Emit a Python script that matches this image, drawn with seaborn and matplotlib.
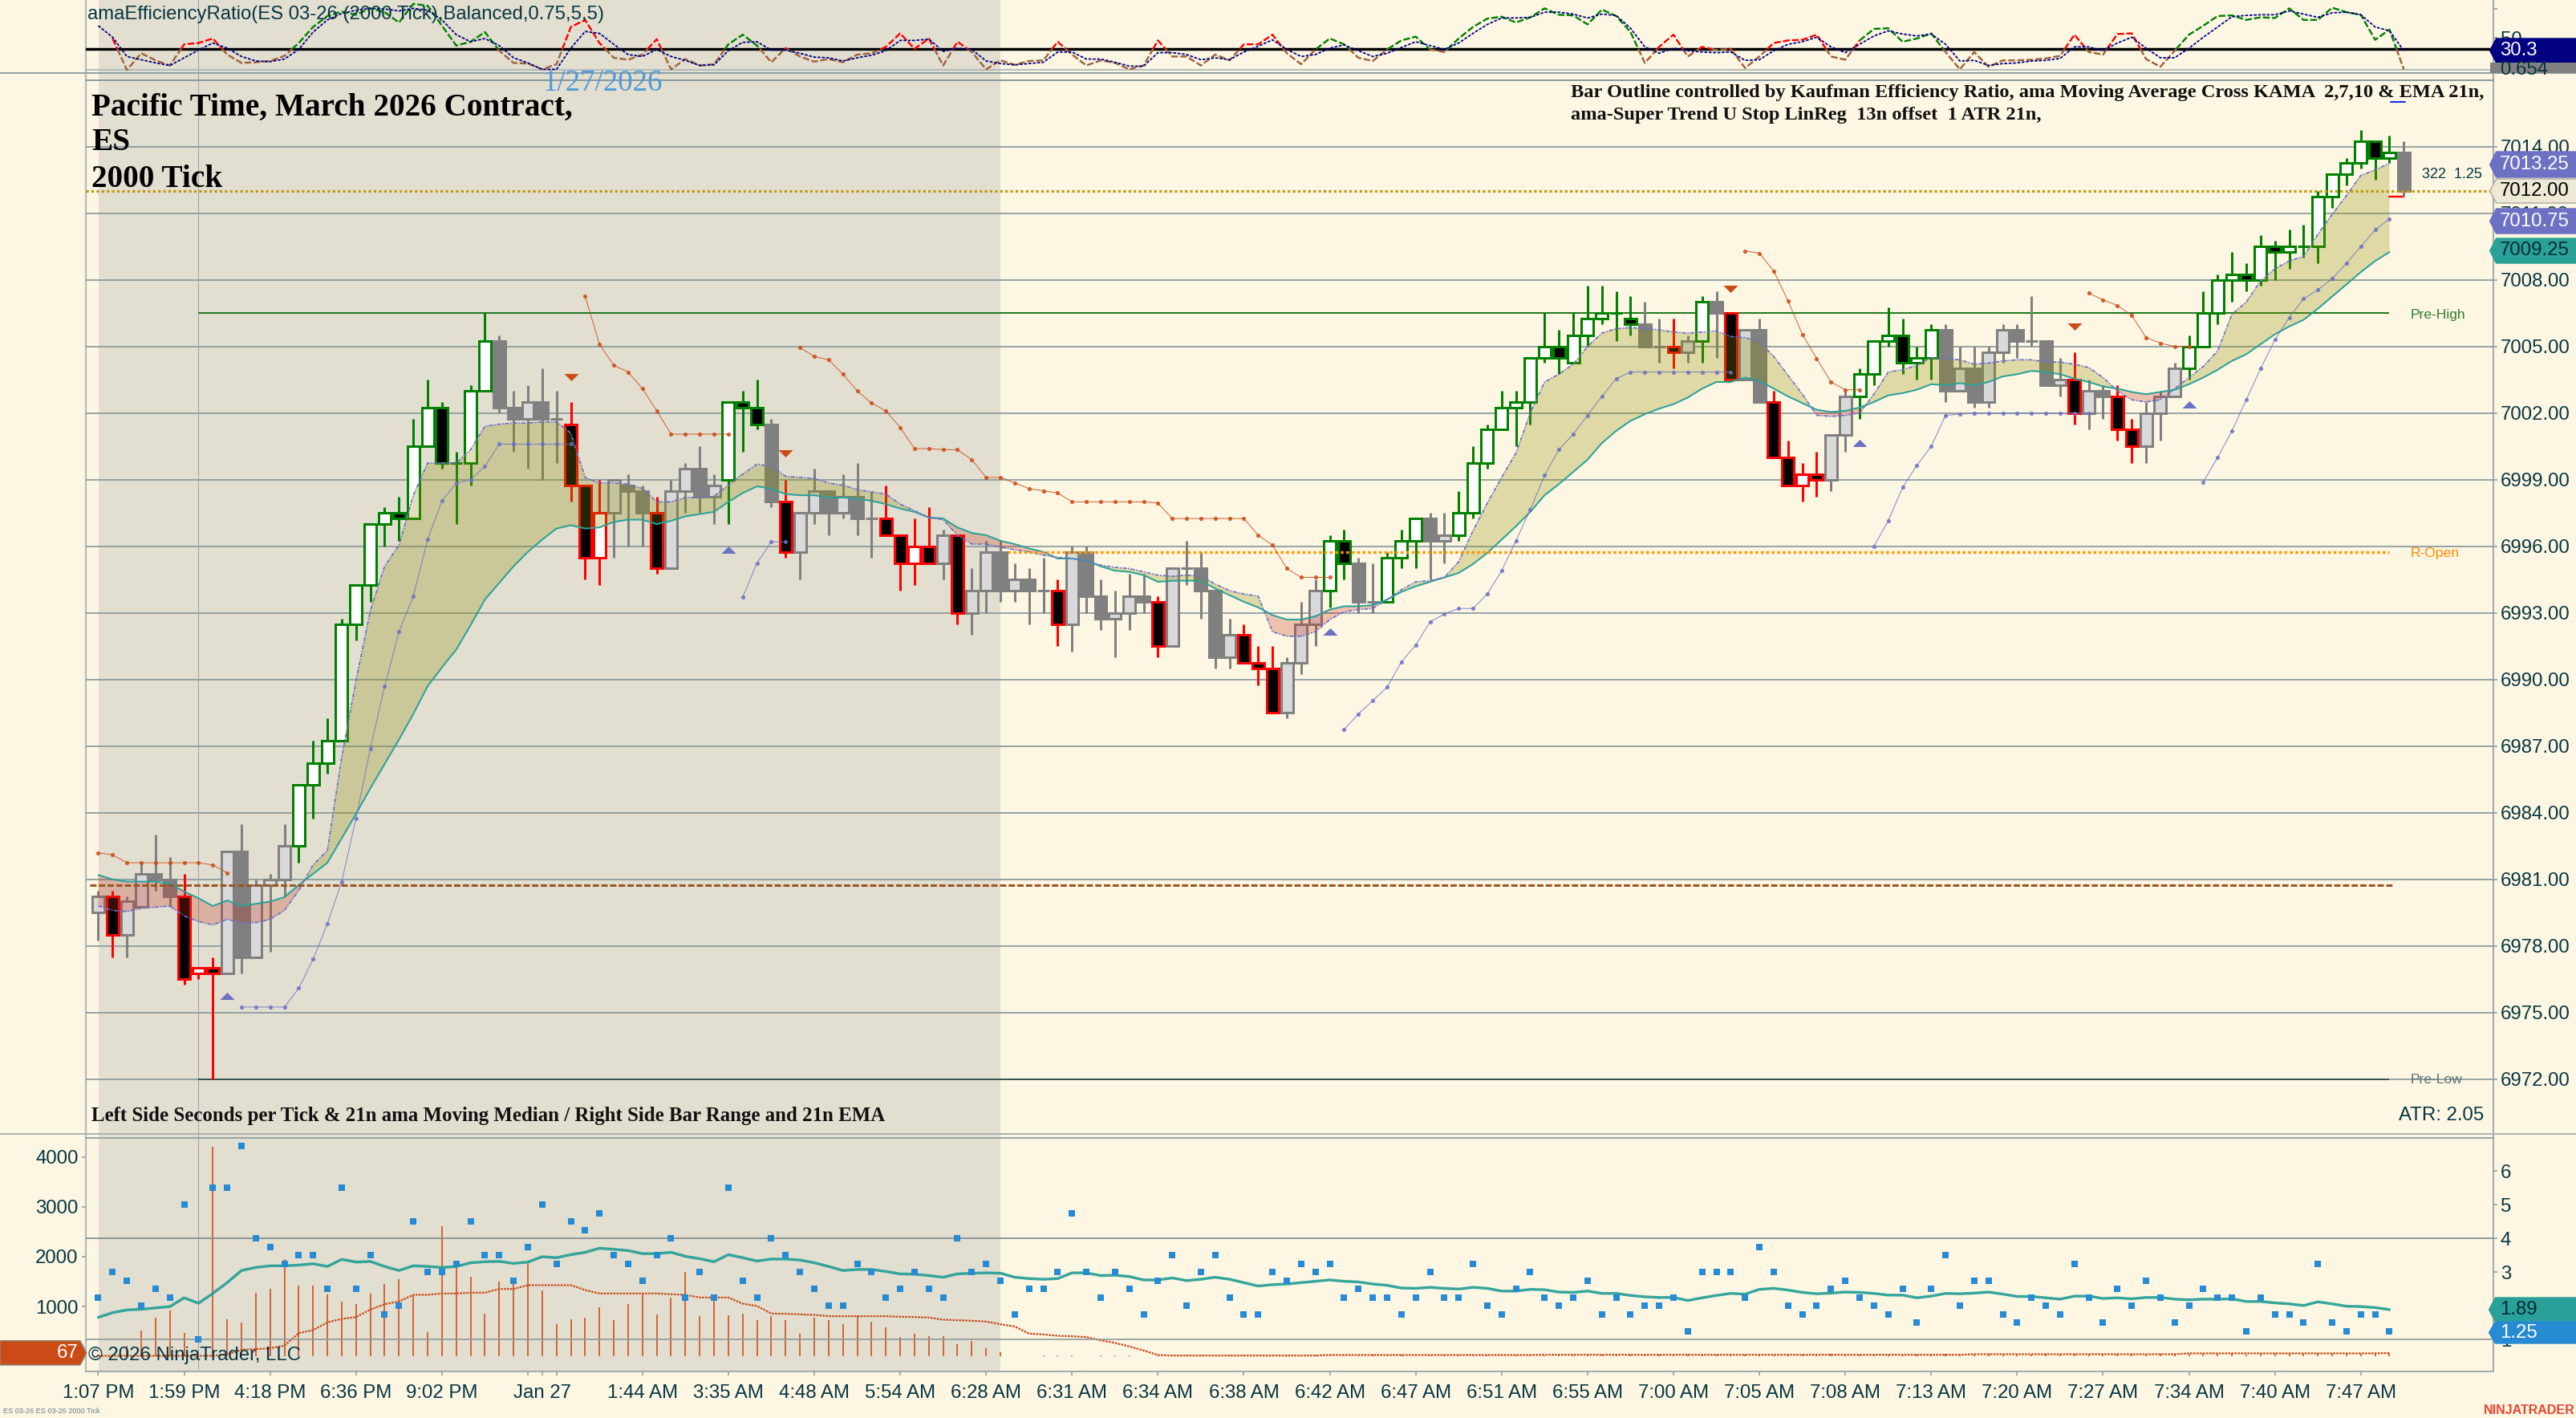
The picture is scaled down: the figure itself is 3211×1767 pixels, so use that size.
import numpy as np
import pandas as pd
import matplotlib
matplotlib.use("Agg")
import matplotlib.pyplot as plt
from matplotlib.path import Path
from matplotlib.patches import Polygon, Rectangle
import seaborn as sns

sns.set_theme(style="white")
plt.rcParams["font.family"] = ["Liberation Sans", "DejaVu Sans"]

BG = "#FDF6E3"; SHADE = "#E2DFD1"; INK = "#073642"; GRID = "#87989B"
TEAL = "#2AA198"; VIOLET = "#6C71C4"; ORANGE = "#CB4B16"; BLUE = "#268BD2"

OPENS = [6979.5,6980.25,6978.5,6979.75,6981.25,6981,6980.25,6976.75,6977,6976.75,
 6982.25,6977.5,6980.75,6981,6982.5,6985.25,6986.25,6987.25,6992.5,6994.25,
 6997,6997.5,6997.25,7000.5,7002.25,6999.75,6999.75,7003,7005.25,7002.25,
 7001.75,7002.5,7001.75,7001.5,6998.75,6995.5,6997.5,6998.75,6998.5,6997.5,
 6995,6998.5,6999.5,6998.25,6999,7002.5,7002.25,7001.5,6998,6995.75,
 6997.5,6998.5,6997.5,6998.25,6997.25,6997.25,6996.5,6995.25,6996,6995.25,
 6996.5,6993,6994,6995.75,6994,6994.5,6994,6994,6992.5,6995.75,
 6993.75,6992.75,6993,6993.75,6993.5,6991.5,6995,6995,6994,6991,
 6992,6990.75,6990.5,6988.5,6990.75,6992.5,6994,6996.25,6995.25,6993.5,
 6993.5,6995.5,6996.25,6997.25,6996.25,6996.5,6997.5,6999.75,7001.25,7002.25,
 7002.5,7004.5,7005,7004.25,7005.5,7006.25,7006.5,7006.25,7006,7005,
 7005,7004.75,7005.25,7007,7006.5,7003.5,7005.75,7002.5,7000,6998.75,
 6999.25,6999,7001,7002.75,7003.75,7005.25,7005.5,7004.25,7004.5,7005.75,
 7003,7004,7002.5,7004.75,7005.75,7005.25,7005.25,7003.25,7003.5,7002,
 7003,7002.75,7001.25,7000.5,7002,7002.75,7004,7005,7006.5,7008,
 7008.25,7008,7009.5,7009.25,7009.5,7009.5,7011.75,7012.75,7013.25,7014.25,
 7013.5,7013.75]
CLOSES = [6980.25,6978.5,6980,6981.25,6981,6980.25,6976.5,6977,6976.75,6982.25,
 6977.5,6980.75,6981,6982.5,6985.25,6986.25,6987.25,6992.5,6994.25,6997,
 6997.5,6997.25,7000.5,7002.25,6999.75,6999.75,7003,7005.25,7002.25,7001.75,
 7002.5,7001.75,7001.75,6998.75,6995.5,6997.5,6999,6998.5,6997.5,6995,
 6998.5,6999.5,6998.25,6998.75,7002.5,7002.25,7001.5,6998,6995.75,6997.5,
 6998.5,6997.5,6998.25,6997.25,6997.25,6996.5,6995.25,6996,6995.25,6996.5,
 6993,6994,6995.75,6994,6994.5,6994,6994,6992.5,6995.75,6993.75,
 6992.75,6993,6993.75,6993.5,6991.5,6995,6995,6994,6991,6992,
 6990.75,6990.5,6988.5,6990.75,6992.5,6994,6996.25,6995.25,6993.5,6993.5,
 6995.5,6996.25,6997.25,6996.25,6996.5,6997.5,6999.75,7001.25,7002.25,7002.5,
 7004.5,7005,7004.5,7005.5,7006.25,7006.5,7006.5,7006,7005,7005,
 7004.75,7005.25,7007,7006.5,7003.5,7005.75,7002.5,7000,6998.75,6999.25,
 6999,7001,7002.75,7003.75,7005.25,7005.5,7004.25,7004.5,7005.75,7003,
 7004,7002.5,7004.75,7005.75,7005.25,7005.25,7003.25,7003.5,7002,7003,
 7002.75,7001.25,7000.5,7002,7002.75,7004,7005,7006.5,7008,7008.25,
 7008,7009.5,7009.25,7009.5,7009.5,7011.75,7012.75,7013.25,7014.25,7013.5,
 7013.75,7012]
HIGHS = [6980.5,6980.5,6980.25,6981.75,6983,6982,6981.25,6977,6977.5,6982.25,
 6983.5,6981,6981.25,6983.5,6985.25,6987.25,6988.25,6992.75,6994.25,6997,
 6997.75,6998.25,7001.75,7003.5,7002.5,7000.25,7003.25,7006.5,7005.5,7003,
 7003.25,7004,7003,7002.5,6998.75,6999,6999,6999.25,6998.75,6998.25,
 6999,6999.75,7000.5,6999.25,7002.5,7003,7003.5,7001.75,6999,6997.5,
 6999.5,6998.5,6999.25,6999.75,6998.5,6998.75,6996.5,6997.25,6997.75,6996.75,
 6996.5,6995,6996.25,6996.25,6995.25,6995,6995.5,6994.5,6996,6996,
 6994.5,6994,6994.75,6994.75,6993.75,6995,6996.25,6995.75,6994,6992.75,
 6992.5,6991.5,6991.5,6991,6993.5,6994.5,6996.5,6996.75,6995.5,6995.25,
 6995.75,6996.75,6997.25,6997.5,6997.5,6998.5,7000.5,7001.5,7003,7003,
 7004.5,7006.5,7005.75,7006.5,7007.75,7007.75,7007.5,7007.25,7007,7006.25,
 7006.25,7005.5,7007.25,7007.5,7006.5,7005.75,7006.25,7003,7000.75,6999.75,
 7000.25,7001,7003,7004,7005.25,7006.75,7006.25,7005,7006,7006,
 7005,7005,7005,7006,7006,7007.25,7005.25,7004.5,7004.75,7003.5,
 7003.25,7003.25,7001.75,7002.5,7003,7004.25,7005.5,7007.5,7008.25,7009.25,
 7008.75,7010,7009.75,7010.25,7010.5,7012,7012.75,7013.5,7014.75,7014.25,
 7014.5,7014.25]
LOWS = [6978.25,6977.5,6977.5,6979.75,6980.5,6979.75,6976.25,6976.5,6972,6976.75,
 6976.75,6977.5,6977.75,6980.25,6981.75,6983.75,6985.75,6987.25,6991.75,6993.5,
 6996,6996.25,6997.25,7000.5,6999.5,6997,6998.75,7003,7002,7000.25,
 6999.5,6999,6999.75,6998,6994.5,6994.25,6995.5,6996,6996,6994.75,
 6995,6997.5,6997.5,6997,6997,7000.25,7001.25,6997.75,6995.5,6994.5,
 6997,6996.5,6997.25,6996.5,6995.5,6996.5,6994,6994.25,6995.25,6994.5,
 6992.5,6992,6993,6993.5,6993.5,6992.5,6993,6991.5,6991.25,6993,
 6992.25,6991,6992.25,6993,6991,6991.5,6994.25,6992.75,6990.5,6990.5,
 6990.75,6989.75,6988.5,6988.25,6990.25,6991.5,6993.25,6994.5,6993,6993,
 6993.5,6995,6995,6994.5,6995.25,6996.25,6997.25,6999.5,7001.25,7000.5,
 7001.5,7004.25,7003.75,7004.25,7005,7006,7005.25,7005.5,7005,7004.25,
 7004,7004.25,7004.25,7004.5,7003.5,7003.5,7002.5,7000,6998.75,6998,
 6998.25,6998.5,7000.25,7001.75,7003.25,7005,7003.75,7003.5,7003.5,7002.5,
 7003,7002.25,7002.25,7004.25,7004.5,7005,7003.25,7002.75,7001.5,7001.25,
 7001.75,7000.75,6999.75,6999.75,7000.75,7002.75,7003.5,7005,7006,7007,
 7007.5,7007.75,7008,7008.5,7009,7008.75,7011.25,7012.25,7013,7012.5,
 7013.25,7011.75]
EDGE = ("krkkkkrrrk" "kkkkgggggg" "ggggggggkk" "kkkrrrkkkr" "kkkkgggkrk"
        "kkkkkrrrrk" "rkkkkkkrkk" "kkkkrkkkkk" "rrrkkkggkk" "gggkkggggg"
        "ggggggggkk" "rkgkrkkrrr" "rkkggggggk" "kkkkkkkkrk" "krrkkkgggg"
        "gggggggggg" "gk")

EMA = [6981.2,6981.0,6980.9,6980.9,6980.9,6980.8,6980.45,6980.15,6979.8,6980.05,
 6979.8,6979.9,6980,6980.2,6980.75,6981.25,6981.75,6982.85,6983.95,6985.1,
 6986.2,6987.3,6988.45,6989.7,6990.55,6991.35,6992.45,6993.6,6994.35,6995.1,
 6995.75,6996.3,6996.8,6996.95,6996.8,6996.85,6997.1,6997.2,6997.2,6997,
 6997.15,6997.35,6997.45,6997.55,6998,6998.4,6998.7,6998.6,6998.35,6998.3,
 6998.3,6998.2,6998.2,6998.15,6998.05,6997.9,6997.7,6997.55,6997.3,6997.25,
 6996.85,6996.6,6996.5,6996.25,6996.1,6995.9,6995.75,6995.45,6995.45,6995.35,
 6995.1,6994.9,6994.85,6994.7,6994.4,6994.45,6994.45,6994.45,6994.1,6993.8,
 6993.5,6993.25,6992.9,6992.7,6992.7,6992.85,6993.15,6993.3,6993.3,6993.35,
 6993.6,6993.95,6994.2,6994.4,6994.6,6994.8,6995.2,6995.7,6996.3,6996.9,
 6997.55,6998.3,6998.8,6999.35,6999.9,7000.65,7001.2,7001.65,7001.95,7002.2,
 7002.4,7002.7,7003.1,7003.4,7003.4,7003.6,7003.45,7003.1,7002.75,7002.45,
 7002.15,7002.05,7002.1,7002.25,7002.5,7002.8,7002.9,7003.05,7003.3,7003.25,
 7003.35,7003.25,7003.4,7003.65,7003.75,7003.9,7003.85,7003.75,7003.55,7003.4,
 7003.2,7003.1,7002.95,7002.85,7002.95,7003.05,7003.3,7003.6,7003.95,7004.35,
 7004.65,7005.1,7005.55,7005.9,7006.2,7006.7,7007.25,7007.8,7008.35,7008.85,7009.25]
KAMA = [6979.8,6979.6,6979.55,6979.7,6979.75,6979.8,6979.35,6979.1,6978.95,6979.2,
 6979.05,6979.05,6979.2,6979.6,6980.5,6981.65,6982.3,6986.5,6989.95,6993.1,
 6995.1,6996.05,6998.3,6999.75,6999.75,6999.75,7000.35,7001.4,7001.5,7001.55,
 7001.55,7001.6,7001.6,7001.1,6999.1,6998.85,6998.85,6998.8,6998.6,6998,
 6998,6998.2,6998.2,6998.25,6998.75,6999.25,6999.7,6999.6,6999.15,6999.1,
 6999.05,6998.85,6998.75,6998.55,6998.45,6998.35,6997.9,6997.6,6997.3,6997.2,
 6996.5,6996.1,6996.1,6995.95,6995.85,6995.75,6995.6,6995.5,6995.45,6995.35,
 6995.15,6995.05,6995,6994.85,6994.7,6994.65,6994.7,6994.65,6994.3,6994,
 6993.85,6993.75,6992.15,6991.95,6991.95,6992.15,6992.7,6993.05,6993.15,6993.2,
 6993.6,6994.05,6994.4,6994.45,6994.6,6995.3,6996.7,6997.95,6999.1,7000.2,
 7002,7003.4,7003.75,7004.2,7005,7005.6,7005.8,7005.85,7005.8,7005.75,
 7005.65,7005.6,7005.65,7005.7,7005.45,7005.4,7005.2,7004.55,7003.7,7002.85,
 7001.9,7001.85,7001.9,7002,7002.85,7003.85,7003.95,7004.15,7004.5,7004.45,
 7004.4,7004.2,7004.25,7004.35,7004.4,7004.4,7004.3,7004.3,7004.2,7004.05,
 7003.6,7003,7002.6,7002.5,7002.6,7003.1,7003.6,7004.1,7004.8,7006.45,
 7007,7007.95,7008.5,7008.85,7009.05,7010.05,7010.95,7011.8,7012.7,7012.95,7013.25]

ST_UPPER = {
 0: [6982.2,6982.1,6981.75,6981.75,6981.75,6981.75,6981.75,6981.75,6981.65,6981.3],
 34: [7007.25,7005.1,7004.15,7003.85,7003.1,7002.1,7001.05,7001.05,7001.05,7001.05,7001.05],
 49: [7004.95,7004.55,7004.4,7003.75,7003,7002.45,7002.1,7001.35,7000.4,7000.4,7000.35,7000.35,
      6999.9,6999.1,6999.1,6998.85,6998.6,6998.5,6998.4,6998,6998,6998,6998,6998,6998,6997.95,
      6997.25,6997.25,6997.25,6997.25,6997.25,6997.25,6996.5,6996.05,6995,6994.6,6994.6,6994.6],
 115: [7009.3,7009.2,7008.4,7007.05,7005.55,7004.45,7003.4,7003.05,7003.05],
 139: [7007.4,7007.1,7006.85,7006.4,7005.4,7005.15,7005,7005],
}
ST_LOWER = {
 10: [6975.25,6975.25,6975.25,6975.25,6976.1,6977.4,6979,6980.9,6983.75,6986.9,6989.7,6992.15,
      6993.75,6996.3,6998.05,6998.85,6999,6999.6,7000.6,7000.6,7000.6,7000.6,7000.6,7000.6],
 45: [6993.7,6995.25,6996.2,6996.2],
 87: [6987.75,6988.45,6989.05,6989.65,6990.8,6991.55,6992.6,6992.95,6993.2,6993.2,6993.85,6994.9,
      6996.25,6997.65,6999.2,7000.35,7001.05,7001.9,7002.75,7003.55,7003.85,7003.85,7003.85,
      7003.85,7003.85,7003.85,7003.85,7003.85],
 124: [6996,6997.15,6998.65,6999.65,7000.5,7001.9,7001.95,7002,7002,7002,7002,7002,7002,7002,7002,7002],
 147: [6998.9,7000,7001.2,7002.6,7004,7005.3,7006.3,7007.15,7007.55,7008.05,7008.75,7009.5,7010.25,7010.75],
}
SELL_IDX = [33,48,114,138]; SELL_PX = [7003.6,7000.2,7007.6,7005.9]
BUY_IDX = [9,44,86,123,146]; BUY_PX = [6975.75,6995.85,6992.15,7000.65,7002.4]

ER = [np.nan,49,0,26,15,7,40,42,49,24,11,12,14,22,42,67,84,91,86,96,90,74,103,100,69,38,44,59,30,11,
 10,1,9,67,78,42,19,16,24,48,1,17,7,9,40,55,38,12,34,21,13,17,12,24,26,36,57,33,49,7,
 44,28,1,15,8,14,15,44,24,7,15,11,1,7,46,21,21,7,24,15,40,40,55,26,9,32,49,40,19,14,
 32,46,52,32,28,49,67,80,83,74,82,96,86,85,71,94,84,59,11,36,55,21,36,31,33,3,21,42,46,47,
 55,21,16,46,64,65,44,49,57,28,1,28,5,15,15,16,18,22,55,28,24,56,57,17,5,30,55,69,84,85,
 78,82,81,96,78,78,97,90,86,47,63,1]
ER_SIGNAL = [69,51,21,16,11,7,19,31,42,34,21,14,13,17,32,59,78,88,93,96,95,92,96,93,78,55,44,49,38,19,
 11,1,1,34,60,57,40,24,21,32,21,15,7,8,30,43,44,31,31,26,20,19,14,19,23,30,46,46,48,29,
 34,32,14,10,8,10,12,28,28,17,17,12,6,6,27,27,24,16,19,16,28,37,47,32,21,24,34,39,30,21,
 26,35,44,38,32,42,57,71,81,81,82,90,90,87,81,87,85,65,36,26,34,30,28,27,28,15,16,30,40,44,
 51,36,27,40,53,61,56,53,56,40,14,15,7,10,11,14,15,18,36,36,30,42,51,34,19,19,34,51,67,83,
 85,86,86,92,87,82,89,90,86,67,61,30]
ER_LEVEL = 32.75
ER_GREEN_RUNS = [(14,28),(44,47),(85,88),(91,94),(95,108),(124,129),(146,161)]

RANGE = [2.25,3,2.75,2,2.5,2.25,5,1,5.5,5.5,6.75,4,3.75,3.25,3.5,3.5,2.5,5.5,2.5,3.5,
 1.75,2,4.5,3,3,3.25,4.5,3.5,3.5,2.75,3.75,5,3.25,4.5,4.25,4.75,3.5,3.25,2.75,3.5,
 4,2.25,3,2.25,5.5,2.75,2.25,4,3.5,3,2.5,2,2,3.25,3,2.25,2.5,3,2.5,2.25,
 4,3,3.25,2.75,1.75,2.5,2.5,3,4.75,3,2.25,3,2.5,1.75,2.75,3.5,2,3,3.5,2.25,
 1.75,1.75,3,2.75,3.25,3,3.25,2.25,2.5,2.25,2.25,1.75,2.25,3,2.25,2.25,3.25,2,1.75,2.5,
 3,2.25,2,2.25,2.75,1.75,2.25,1.75,2,2,2.25,1.25,3,3,3,2.25,3.75,3,2,1.75,
 2,2.5,2.75,2.25,2,1.75,2.5,1.5,2.5,3.5,2,2.75,2.75,1.75,1.5,2.25,2,1.75,3.25,2.25,
 1.5,2.5,2,2.75,2.25,1.5,2,2.5,2.25,2.25,1.25,2.25,1.75,1.75,1.5,3.25,1.5,1.25,1.75,1.75,1.25]
RANGE_EMA = [1.66,1.80,1.88,1.90,1.94,1.98,2.24,2.08,2.37,2.69,3.05,3.14,3.19,3.19,3.21,3.25,3.17,3.38,3.30,3.32,
 3.17,3.05,3.19,3.17,3.14,3.17,3.28,3.31,3.32,3.26,3.30,3.46,3.43,3.52,3.59,3.71,3.68,3.64,3.55,3.55,
 3.59,3.47,3.40,3.31,3.52,3.43,3.33,3.39,3.39,3.36,3.28,3.17,3.05,3.08,3.08,3.02,2.95,2.94,2.90,2.85,
 2.95,2.97,2.98,2.97,2.85,2.81,2.79,2.81,2.98,2.98,2.90,2.91,2.87,2.77,2.77,2.83,2.75,2.79,2.85,2.79,
 2.69,2.59,2.63,2.65,2.69,2.73,2.77,2.73,2.71,2.65,2.61,2.53,2.52,2.55,2.52,2.50,2.55,2.52,2.44,2.44,
 2.49,2.48,2.41,2.40,2.44,2.37,2.37,2.31,2.27,2.25,2.25,2.16,2.24,2.31,2.37,2.35,2.49,2.52,2.47,2.40,
 2.36,2.38,2.41,2.40,2.37,2.32,2.32,2.24,2.29,2.37,2.36,2.38,2.41,2.35,2.28,2.28,2.24,2.20,2.29,2.29,
 2.22,2.24,2.21,2.25,2.25,2.20,2.18,2.20,2.20,2.21,2.13,2.13,2.09,2.06,2.01,2.12,2.06,1.99,1.98,1.95,1.89]
SECONDS = [30,25,215,526,779,913,467,20,4200,741,682,1273,1353,1944,1423,1423,1235,1090,1047,1262,
 1450,1557,1251,494,2604,1826,1595,859,1504,1450,1880,1316,644,741,779,993,725,1047,1262,848,
 1171,1692,806,1235,832,859,725,806,725,446,779,725,644,806,698,590,387,446,403,403,
 242,306,161,81,10,5,15,12,15,10,15,12,15,10,20,12,15,22,12,18,
 15,20,12,18,25,15,30,18,25,30,20,30,25,18,35,22,30,20,35,25,
 30,22,38,25,30,35,22,40,28,35,25,40,30,35,25,40,30,22,38,28,
 35,45,28,40,30,38,25,42,30,45,28,38,48,35,42,30,45,38,52,40,
 48,35,55,42,50,38,55,45,50,60,42,55,48,60,45,62,50,58,45,60,67]
SEC_MEDIAN = [11,11,11,11,11,11,11,11,11,38,134,145,161,215,467,526,682,752,789,940,
 1047,1101,1235,1235,1262,1262,1278,1278,1353,1353,1428,1428,1428,1428,1332,1262,1262,1262,1262,1262,
 1246,1235,1181,1181,1181,1058,1010,859,854,843,832,806,806,806,806,806,795,789,779,736,
 725,714,698,644,601,456,440,413,403,387,322,269,199,118,27,16,16,16,16,16,
 16,16,16,16,16,16,27,27,27,27,27,27,27,27,27,27,27,27,27,27,
 27,32,32,32,32,32,32,32,32,32,32,32,32,32,32,32,32,32,32,32,
 32,32,32,32,32,32,32,32,32,32,32,43,43,43,43,43,43,43,43,43,
 43,43,43,43,43,43,60,60,60,60,60,60,60,60,60,60,60,60,60,60,67]

PRICE_TICKS = [6972,6975,6978,6981,6984,6987,6990,6993,6996,6999,7002,7005,7008,7011,7014]
TIME_POS = [0,6,12,18,24,31,38,44,50,56,62,68,74,80,86,92,98,104,110,116,122,128,134,140,146,152,158]
TIME_LABELS = ["1:07 PM","1:59 PM","4:18 PM","6:36 PM","9:02 PM","Jan 27","1:44 AM","3:35 AM","4:48 AM",
 "5:54 AM","6:28 AM","6:31 AM","6:34 AM","6:38 AM","6:42 AM","6:47 AM","6:51 AM","6:55 AM","7:00 AM",
 "7:05 AM","7:08 AM","7:13 AM","7:20 AM","7:27 AM","7:34 AM","7:40 AM","7:47 AM"]

W, H = 3212, 1767
fig = plt.figure(figsize=(W/100, H/100), dpi=100, facecolor=BG)
PX = 0.72  # points per pixel at dpi 100
TICK_FS = 17.3

def rect(x0, y0, x1, y1):
    return [x0/W, 1-y1/H, (x1-x0)/W, (y1-y0)/H]

XL, XR = 106.7, 3107.7
x2i = lambda x: (x-122.5)/17.85
XLIM = (x2i(XL), x2i(XR))

# pixel-space underlay for session shade and frame rules
back = fig.add_axes([0, 0, 1, 1], zorder=-5, facecolor=BG)
back.set_xlim(0, W); back.set_ylim(H, 0); back.axis("off")
back.add_patch(Rectangle((122.8, 0), 1246.8-122.8, 1709, fc=SHADE, ec="none"))
back.plot([247, 247], [0, 1706], color="#9C9CB0", lw=1*PX)
back.plot([XL, XL], [0, 1709], color="#B8BEBC", lw=2.4*PX)
back.plot([XR, XR], [0, 1709], color="#8A9A9C", lw=1.6*PX)
for y, x0, x1, c in [(86.7, XL, XR, "#A9B8BC"), (91.5, 0, W, "#8A9A9C"), (100.3, XL, XR, "#7F9196"),
                     (1413.3, 0, W, "#A5ACA8"), (1418.3, XL, XR, "#8FA0A3"), (1709, XL, XR, "#9AA5A5")]:
    back.plot([x0, x1], [y, y], color=c, lw=1.8*PX)

def style(ax):
    ax.patch.set_alpha(0)
    for s in ax.spines.values():
        s.set_visible(False)
    ax.set_xlim(*XLIM)
    ax.set_xlabel(""); ax.set_ylabel("")
    ax.grid(False)

# ---------------- main price panel
ax = fig.add_axes(rect(XL, 100.3, XR, 1413.3), zorder=2)
idx = np.arange(len(OPENS))
for p in PRICE_TICKS:
    ax.axhline(p, color=GRID, lw=1.7*PX, zorder=1)
EDGE_COL = {"g": "#008000", "r": "#FF0000", "k": "#808080"}
for i in idx:
    o, c, h, l, e = OPENS[i], CLOSES[i], HIGHS[i], LOWS[i], EDGE[i]
    col = EDGE_COL[e]
    z = 3 + i*1e-3
    ax.vlines(i, l, h, color=col, lw=3*PX, zorder=z)
    up = c >= o
    if e == "k":
        fc = "#D9D9D9" if up else "#808080"
    else:
        fc = "#FFFFFF" if up else "#000000"
    ax.bar(i, abs(c-o), bottom=min(o, c), width=0.84, color=fc, edgecolor=col,
           linewidth=3*PX, zorder=z+1e-4)
ax.plot([160, 161], [LOWS[161], LOWS[161]], color="#FF0000", lw=2.4*PX, zorder=3)

ma = pd.DataFrame({"bar": np.arange(len(EMA)), "ema": EMA, "kama": KAMA})
ax.fill_between(ma.bar, ma.kama, ma.ema, where=ma.kama >= ma.ema, interpolate=True,
                color=(140/255, 140/255, 0), alpha=0.27, lw=0, zorder=4)
ax.fill_between(ma.bar, ma.kama, ma.ema, where=ma.kama <= ma.ema, interpolate=True,
                color=(200/255, 50/255, 30/255), alpha=0.27, lw=0, zorder=4)
sns.lineplot(data=ma, x="bar", y="ema", ax=ax, color=TEAL, lw=2.0*PX, zorder=5, errorbar=None)
sns.lineplot(data=ma, x="bar", y="kama", ax=ax, color=VIOLET, lw=1.7*PX, ls=(0, (3, 1, 1, 1)), zorder=5, errorbar=None)

for segs, col in [(ST_UPPER, ORANGE), (ST_LOWER, VIOLET)]:
    for start, vals in segs.items():
        seg = pd.DataFrame({"bar": start + np.arange(len(vals)), "stop": vals})
        sns.lineplot(data=seg, x="bar", y="stop", ax=ax, color=col, lw=1.0*PX, marker="o",
                     markersize=5.2*PX, markeredgewidth=0, zorder=6, errorbar=None, alpha=0.85)

tri_down = Path([(-1, .5), (1, .5), (0, -.5), (-1, .5)], closed=True)
tri_up = Path([(-1, -.5), (1, -.5), (0, .5), (-1, -.5)], closed=True)
sns.scatterplot(x=SELL_IDX, y=SELL_PX, ax=ax, marker=tri_down, s=169, color=ORANGE, linewidth=0, zorder=7)
sns.scatterplot(x=BUY_IDX, y=BUY_PX, ax=ax, marker=tri_up, s=169, color=VIOLET, linewidth=0, zorder=7)

# session reference levels
ax.hlines(7006.5, 7, 160, color="#1F7A1F", lw=2*PX, zorder=2.5)
ax.hlines(6972, 7, 160, color="#2F5550", lw=2*PX, zorder=2.5)
ax.hlines(6980.75, -0.6, 160.3, color="#9A5520", lw=3*PX, linestyles=(0, (2.6, 1)), zorder=5.5)
ax.hlines(6995.75, 63.5, 160, color="#FF9800", lw=3.4*PX, linestyles=(0, (1, 1)), zorder=5.5)
ax.axhline(7012, color="#C19A12", lw=3.2*PX, ls=(0, (1, 1)), zorder=5.5)

style(ax)
ax.set_ylim(7014-(1413.3-182.7)/27.67, 7014+(182.7-100.3)/27.67)
ax.yaxis.tick_right()
ax.set_yticks(PRICE_TICKS)
ax.set_yticklabels([f"{p:.2f}" for p in PRICE_TICKS])
ax.set_xticks([])
ax.tick_params(axis="y", length=5*PX, width=1.5*PX, color=GRID, labelsize=TICK_FS, labelcolor=INK, pad=3, right=True)

# ---------------- efficiency ratio panel
top = fig.add_axes(rect(XL, 0, XR, 91.5), zorder=2)
top.axhline(ER_LEVEL, color="#B9B9A8", lw=5*PX, zorder=2)
top.axhline(ER_LEVEL, color="#000000", lw=3*PX, zorder=3)
def hi_col(i):
    return "#008000" if any(a <= i <= b for a, b in ER_GREEN_RUNS) else "#FF0000"
runs = []
for i in range(2, len(ER)):
    a, b = ER[i-1], ER[i]
    pts = [(i-1, a)]
    if (a-ER_LEVEL)*(b-ER_LEVEL) < 0:
        t = (ER_LEVEL-a)/(b-a)
        pts.append((i-1+t, ER_LEVEL))
    pts.append((i, b))
    for (x0, y0), (x1, y1) in zip(pts, pts[1:]):
        col = hi_col(i) if (y0+y1)/2 > ER_LEVEL else "#A0623A"
        if runs and runs[-1][0] == col:
            runs[-1][1].append((x1, y1))
        else:
            runs.append((col, [(x0, y0), (x1, y1)]))
for col, pts in runs:
    xy = np.array(pts)
    top.plot(xy[:, 0], xy[:, 1], color=col, lw=2.4*PX, ls=(0, (3.5, 1.2)), zorder=4)
sig = pd.DataFrame({"bar": np.arange(len(ER_SIGNAL)), "sig": ER_SIGNAL})
sns.lineplot(data=sig, x="bar", y="sig", ax=top, color="#000080", lw=1.8*PX, ls=(0, (2, 1)), zorder=5, errorbar=None)
style(top)
top.set_ylim((87.2-91.5)/0.8, 87.2/0.8)
top.yaxis.tick_right()
top.set_yticks([50, 95]); top.set_yticklabels(["50", ""])
top.set_xticks([])
top.tick_params(axis="y", length=5*PX, width=1.5*PX, color=GRID, labelsize=TICK_FS, labelcolor=INK, pad=3, right=True)

# ---------------- lower panel
low = fig.add_axes(rect(XL, 1418.3, XR, 1709), zorder=2)
bar_i = np.arange(len(SECONDS))
low.vlines(bar_i, 0, SECONDS, color=ORANGE, lw=1.6*PX, zorder=3)
med = pd.DataFrame({"bar": bar_i, "med": SEC_MEDIAN})
sns.lineplot(data=med, x="bar", y="med", ax=low, color=ORANGE, lw=2.2*PX, ls=(0, (1.2, 0.6)), zorder=4, errorbar=None)
style(low)
low.set_ylim(-303, (1690.2-1418.3)/0.0621)
low.set_yticks([1000, 2000, 3000, 4000])
low.set_xticks(TIME_POS); low.set_xticklabels(TIME_LABELS)
low.set_xticks([30, 32], minor=True)
low.tick_params(axis="x", which="both", length=5*PX, width=1.5*PX, color=GRID, labelsize=TICK_FS, labelcolor=INK, pad=8, bottom=True)
low.tick_params(axis="y", length=5*PX, width=1.5*PX, color=GRID, labelsize=TICK_FS, labelcolor=INK, pad=3, left=True)

rgt = low.twinx()
rgt.axhline(4, color="#7F8B8B", lw=1.7*PX, zorder=1)
rgt.axhline(1, color="#8F9A9A", lw=1.7*PX, zorder=1)
rng = pd.DataFrame({"bar": np.arange(len(RANGE)), "range": RANGE, "ema": RANGE_EMA})
sns.lineplot(data=rng, x="bar", y="ema", ax=rgt, color=TEAL, lw=3.4*PX, alpha=0.95, zorder=5, errorbar=None)
sns.scatterplot(data=rng, x="bar", y="range", ax=rgt, marker="s", s=36, color=BLUE, linewidth=0, zorder=6)
style(rgt)
rgt.set_ylim(1+(1669.3-1709)/42, 1+(1669.3-1418.3)/42)
rgt.set_yticks([1, 2, 3, 4, 5, 6])
rgt.tick_params(axis="y", length=5*PX, width=1.5*PX, color=GRID, labelsize=TICK_FS, labelcolor=INK, pad=3, right=True)

# ---------------- pixel-space overlay: notes and price tags
ov = fig.add_axes([0, 0, 1, 1], zorder=20)
ov.patch.set_alpha(0); ov.set_xlim(0, W); ov.set_ylim(H, 0); ov.axis("off")
SERIF = ["Liberation Serif", "DejaVu Serif"]

for txt, y in [("Pacific Time, March 2026 Contract,", 143.5), ("ES", 187), ("2000 Tick", 232.7)]:
    ov.text(114.4, y, txt, family=SERIF, weight="bold", fontsize=28.3, color="#000000", va="baseline", ha="left")
ov.text(677, 113, "1/27/2026", family=SERIF, fontsize=26.6, color="#4F9BD9", va="baseline", ha="left")
ov.text(1958, 115, "Bar Outline controlled by Kaufman Efficiency Ratio, ama Moving Average Cross KAMA  2,7,10 & EMA 21n,",
        family=SERIF, weight="bold", fontsize=17.55, color="#111111", va="center", ha="left")
ov.text(1958, 143, "ama-Super Trend U Stop LinReg  13n offset  1 ATR 21n,",
        family=SERIF, weight="bold", fontsize=17.55, color="#111111", va="center", ha="left")
ov.plot([2980, 2998], [127, 127], color="#1030E0", lw=2*PX)
ov.text(114.4, 1390, "Left Side Seconds per Tick & 21n ama Moving Median / Right Side Bar Range and 21n EMA",
        family=SERIF, weight="bold", fontsize=17.9, color="#111111", va="center", ha="left")
ov.text(109.5, 18, "amaEfficiencyRatio(ES 03-26 (2000 Tick),Balanced,0.75,5,5)", fontsize=17.2, color=INK, va="center", ha="left")
ov.text(3096, 1390, "ATR: 2.05", fontsize=TICK_FS, color=INK, va="center", ha="right")
ov.text(110, 1689, "\u00a9 2026 NinjaTrader, LLC", fontsize=TICK_FS, color=INK, va="center", ha="left")
ov.text(3019, 217, "322  1.25", fontsize=13, color=INK, va="center", ha="left")
ov.text(3005, 392, "Pre-High", fontsize=12.6, color="#2E7D32", va="center", ha="left")
ov.text(3005, 689, "R-Open", fontsize=12.6, color="#FF8C00", va="center", ha="left")
ov.text(3005, 1345, "Pre-Low", fontsize=12.6, color="#586E75", va="center", ha="left")
ov.text(4, 1758, "ES 03-26 ES 03-26 2000 Tick", fontsize=6.6, color="#657B83", va="center", ha="left")
ov.text(3210, 1757.5, "NINJATRADER", fontsize=11.5, weight="bold", color="#E8452C", va="center", ha="right")

def tag(y0, y1, fc, txt, tc, ec=None, x0=3103.6, tx=3116):
    m = (y0+y1)/2
    poly = Polygon([(x0+8, y0), (W, y0), (W, y1), (x0+8, y1), (x0, m)], closed=True, fc=fc, ec=ec or fc, lw=1, zorder=5)
    ov.add_patch(poly)
    return ov.text(tx, m, txt, fontsize=TICK_FS, color=tc, va="center", ha="left", zorder=6)

tag(48, 78, "#000080", "30.3", "#FFFFFF")
r = Rectangle((3103.6, 78), W-3103.6, 13, fc="#808080", ec="none", zorder=5)
ov.add_patch(r)
t = ov.text(3116, 87, "0.654", fontsize=TICK_FS, color=INK, va="center", ha="left", zorder=6)
t.set_clip_path(r)
tag(189, 221, VIOLET, "7013.25", "#FFFFFF")
tag(223, 253, "#EEE8D5", "7012.00", "#000000", ec="#A9A9A0")
tag(260, 291, VIOLET, "7010.75", "#FFFFFF")
tag(297, 328, TEAL, "7009.25", "#002B36")
tag(1617, 1647, TEAL, "1.89", "#002B36", x0=3102.5)
tag(1647, 1674, BLUE, "1.25", "#FFFFFF", x0=3102.5)
ov.add_patch(Polygon([(0, 1670.7), (100, 1670.7), (108, 1686), (100, 1701), (0, 1701)], closed=True,
                     fc=ORANGE, ec="#8A8A80", lw=1, zorder=5))
ov.text(98, 1686, "67", fontsize=TICK_FS, color="#FFFFFF", va="center", ha="right", zorder=6)

fig.savefig("out.png", dpi=100, facecolor=BG)
